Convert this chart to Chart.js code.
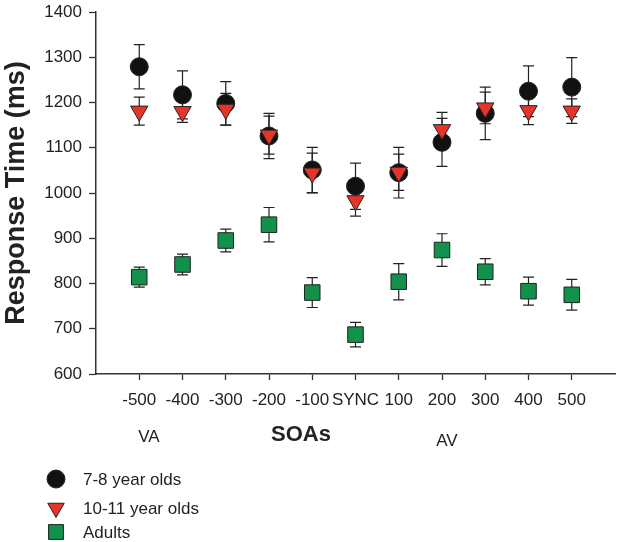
<!DOCTYPE html>
<html>
<head>
<meta charset="utf-8">
<script src="https://cdn.jsdelivr.net/npm/chart.js@4.4.1/dist/chart.umd.min.js"></script>
<style>
  html, body { margin: 0; padding: 0; background: #fff; }
  canvas { display: block; }
</style>
</head>
<body>
<canvas id="rt-chart" width="617" height="542"></canvas>
<script>
// SOA conditions (ms), SYNC = 0
const soaValues = [-500, -400, -300, -200, -100, 0, 100, 200, 300, 400, 500];
const soaLabels = ['-500', '-400', '-300', '-200', '-100', 'SYNC', '100', '200', '300', '400', '500'];
const yTicks = [600, 700, 800, 900, 1000, 1100, 1200, 1300, 1400];

const kids78Mean = [1279, 1217, 1198, 1126, 1051, 1015, 1045, 1112, 1176, 1225, 1234];
const kids78Err  = [49, 53, 48, 50, 50, 51, 56, 53, 58, 56, 65];

const kids1011Mean = [1181, 1180, 1185, 1128, 1044, 983, 1046, 1140, 1188, 1182, 1181];
const kids1011Err  = [31, 24, 35, 42, 44, 34, 40, 38, 35, 31, 27];

const adultsMean = [814, 842, 895, 930, 780, 687, 804, 874, 826, 783, 775];
const adultsErr  = [22, 23, 25, 38, 33, 27, 40, 36, 29, 31, 34];

const FONT = '"Liberation Sans", Arial, sans-serif';
const INK = '#222';

const toPoints = (means) => means.map((m, i) => ({ x: soaValues[i], y: m }));

// no extra label overhang padding, chart area comes from layout padding only
const noScalePadding = (scale) => {
    scale.paddingTop = 0; scale.paddingBottom = 0;
    scale.paddingLeft = 0; scale.paddingRight = 0;
};

const errorBars = {
    id: 'errorBars',
    beforeDatasetsDraw(chart) {
        const ctx = chart.ctx;
        const { x, y } = chart.scales;
        ctx.save();
        ctx.strokeStyle = INK;
        ctx.lineWidth = 1.2;
        chart.data.datasets.forEach(ds => {
            ds.data.forEach((p, i) => {
                const px = x.getPixelForValue(p.x);
                const top = y.getPixelForValue(p.y + ds.errors[i]);
                const bot = y.getPixelForValue(p.y - ds.errors[i]);
                ctx.beginPath();
                ctx.moveTo(px, top); ctx.lineTo(px, bot);
                ctx.moveTo(px - 5.5, top); ctx.lineTo(px + 5.5, top);
                ctx.moveTo(px - 5.5, bot); ctx.lineTo(px + 5.5, bot);
                ctx.stroke();
            });
        });
        ctx.restore();
    }
};

const extraText = {
    id: 'extraText',
    afterDraw(chart) {
        const ctx = chart.ctx;
        ctx.save();
        ctx.fillStyle = INK;
        ctx.textBaseline = 'middle';
        ctx.textAlign = 'center';
        ctx.font = '17px ' + FONT;
        ctx.fillText('VA', 149, 437);
        ctx.fillText('AV', 447, 441);
        ctx.font = 'bold 22px ' + FONT;
        ctx.fillText('SOAs', 301, 435);

        // legend
        const items = [
            { label: '7-8 year olds', style: 'circle', color: '#111', r: 9, rot: 0, y: 479 },
            { label: '10-11 year olds', style: 'triangle', color: '#e5342a', r: 9.5, rot: 180, y: 508 },
            { label: 'Adults', style: 'rect', color: '#11914a', r: 10.5, rot: 0, y: 532 }
        ];
        ctx.font = '17px ' + FONT;
        ctx.textAlign = 'left';
        items.forEach(it => {
            ctx.fillStyle = it.color;
            ctx.strokeStyle = INK;
            ctx.lineWidth = 1;
            Chart.helpers.drawPoint(ctx, { pointStyle: it.style, radius: it.r, rotation: it.rot, borderWidth: 1 }, 56, it.y);
            ctx.fillStyle = INK;
            ctx.fillText(it.label, 83, it.y + 1);
        });
        ctx.restore();
    }
};

new Chart(document.getElementById('rt-chart'), {
    type: 'scatter',
    data: {
        datasets: [
            {
                label: '7-8 year olds',
                data: toPoints(kids78Mean),
                errors: kids78Err,
                order: 1,
                pointStyle: 'circle',
                pointRadius: 9,
                backgroundColor: '#111',
                borderColor: INK,
                borderWidth: 1
            },
            {
                label: '10-11 year olds',
                data: toPoints(kids1011Mean),
                errors: kids1011Err,
                order: 0,
                pointStyle: 'triangle',
                rotation: 180,
                pointRadius: 10,
                backgroundColor: '#e5342a',
                borderColor: INK,
                borderWidth: 1
            },
            {
                label: 'Adults',
                data: toPoints(adultsMean),
                errors: adultsErr,
                order: 2,
                pointStyle: 'rect',
                pointRadius: 11,
                backgroundColor: '#11914a',
                borderColor: INK,
                borderWidth: 1
            }
        ]
    },
    options: {
        responsive: false,
        animation: false,
        layout: { autoPadding: false, padding: { top: 12, right: 2, left: 0, bottom: 0 } },
        plugins: {
            legend: { display: false },
            tooltip: { enabled: false }
        },
        scales: {
            x: {
                type: 'linear',
                min: -600,
                max: 600,
                afterBuildTicks: (scale) => { scale.ticks = soaValues.map(v => ({ value: v })); },
                afterFit: (scale) => { scale.height = 168; noScalePadding(scale); },
                ticks: {
                    autoSkip: false,
                    maxRotation: 0,
                    padding: 10,
                    color: INK,
                    font: { family: FONT, size: 17 },
                    callback: (value) => soaLabels[soaValues.indexOf(value)]
                },
                grid: { drawOnChartArea: false, tickLength: 6, tickColor: '#333', tickWidth: 1.3 },
                border: { color: '#333', width: 1.5 }
            },
            y: {
                min: 600,
                max: 1400,
                afterBuildTicks: (scale) => { scale.ticks = yTicks.map(v => ({ value: v })); },
                afterFit: (scale) => { scale.width = 96; noScalePadding(scale); },
                ticks: {
                    padding: 7,
                    color: INK,
                    font: { family: FONT, size: 17 },
                    callback: (value) => String(value)
                },
                title: {
                    display: true,
                    text: 'Response Time (ms)',
                    color: INK,
                    padding: { top: 0, bottom: 0 },
                    font: { family: FONT, size: 27, weight: 'bold' }
                },
                grid: { drawOnChartArea: false, tickLength: 7, tickColor: '#333', tickWidth: 1.3 },
                border: { color: '#333', width: 1.5 }
            }
        }
    },
    plugins: [errorBars, extraText]
});
</script>
</body>
</html>
